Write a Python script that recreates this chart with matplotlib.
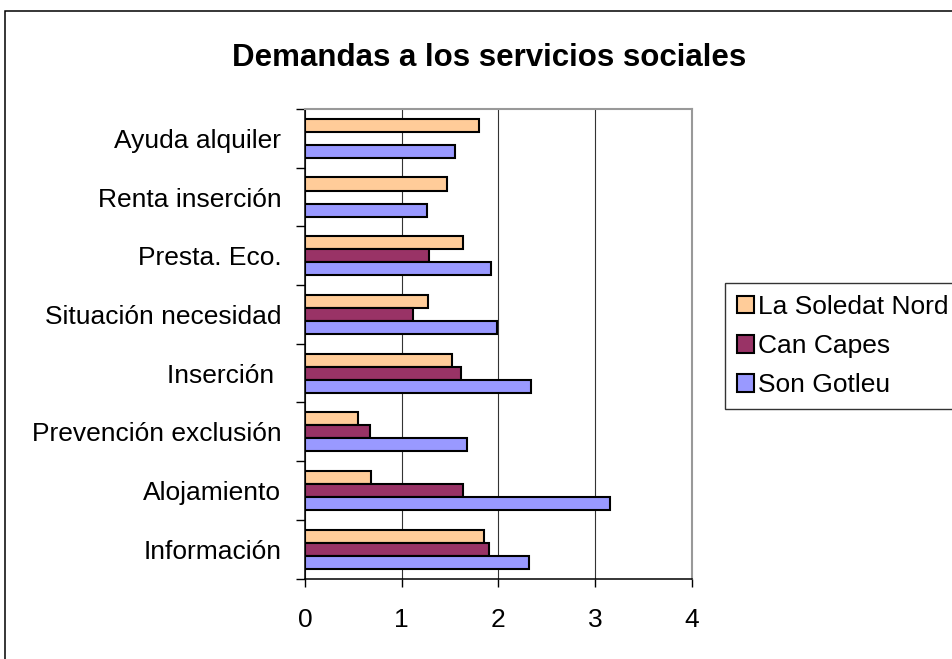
import numpy as np
import matplotlib
matplotlib.use('Agg')
import matplotlib.pyplot as plt
from matplotlib.patches import Rectangle

plt.rcParams['font.family'] = ['Liberation Sans', 'DejaVu Sans']

# categories from bottom to top (as drawn)
categories = ['Información', 'Alojamiento', 'Prevención exclusión', 'Inserción ',
              'Situación necesidad', 'Presta. Eco.', 'Renta inserción', 'Ayuda alquiler']
son_gotleu = [2.32, 3.15, 1.67, 2.34, 1.98, 1.92, 1.26, 1.55]
can_capes = [1.90, 1.63, 0.67, 1.61, 1.12, 1.28, 0.0, 0.0]
soledat_nord = [1.85, 0.68, 0.55, 1.52, 1.27, 1.63, 1.47, 1.80]
series_names = ['La Soledat Nord', 'Can Capes', 'Son Gotleu']
colors = ['#FFCC99', '#993366', '#9999FF']
xticks = [0, 1, 2, 3, 4]

W, H = 953, 659
fig = plt.figure(figsize=(W / 100, H / 100), dpi=100)

# outer chart border
fig.patches.append(Rectangle((4.5 / W, -0.1), 1.2, 1.1 - 11 / H, transform=fig.transFigure,
                             fill=False, edgecolor='black', linewidth=1.1, zorder=0))

ax = fig.add_axes([305 / W, 1 - 578.5 / H, 387 / W, 469.5 / H])

centers = np.arange(len(categories)) + 0.5
bh = 0.222
vals = [soledat_nord, can_capes, son_gotleu]
offs = [bh, 0, -bh]
handles = []
for v, off, c, name in zip(vals, offs, colors, series_names):
    b = ax.barh(centers + off, v, height=bh, color=c, edgecolor='black',
                linewidth=1.5, label=name, zorder=3)
    handles.append(b)

ax.set_xlim(0, 4)
ax.set_ylim(0, len(categories))
ax.set_xticks(xticks)
ax.set_xticklabels([str(t) for t in xticks])
ax.set_yticks(centers)
ax.set_yticklabels(categories)
ax.set_yticks(np.arange(len(categories) + 1), minor=True)
ax.tick_params(axis='y', which='major', length=0, pad=17, labelsize=19)
ax.tick_params(axis='y', which='minor', length=6.5, width=1, direction='out')
ax.tick_params(axis='x', length=6, width=1, direction='out', pad=15, labelsize=19)

ax.grid(axis='x', color='#333333', linewidth=0.8, zorder=0)
for s in ['left', 'bottom']:
    ax.spines[s].set_color('black')
    ax.spines[s].set_linewidth(1.1)
for s in ['right', 'top']:
    ax.spines[s].set_color('#999999')
    ax.spines[s].set_linewidth(1.5)

fig.text(489 / W, 1 - 58 / H, 'Demandas a los servicios sociales', ha='center', va='center',
         fontsize=22.5, fontweight='bold')

leg = fig.legend(handles=handles, labels=series_names, loc='upper left',
                 bbox_to_anchor=(725 / W, 1 - 283 / H), bbox_transform=fig.transFigure,
                 fontsize=19, frameon=True, fancybox=False, shadow=False,
                 handlelength=0.65, handleheight=0.65, handletextpad=0.15,
                 labelspacing=0.58, borderpad=0.45, borderaxespad=0)
leg.get_frame().set_edgecolor('black')
leg.get_frame().set_linewidth(1.0)

fig.savefig('out.png', dpi=100)
